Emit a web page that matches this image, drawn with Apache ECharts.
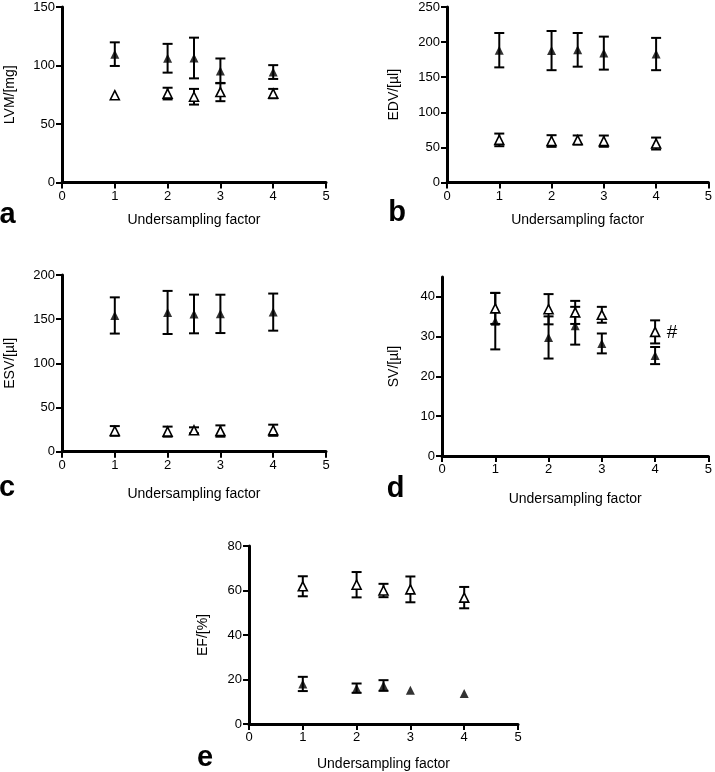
<!DOCTYPE html>
<html><head><meta charset="utf-8">
<script src="https://cdn.jsdelivr.net/npm/echarts@6/dist/echarts.min.js"></script>
<style>html,body{margin:0;padding:0;background:#fff}#c{width:715px;height:772px}</style>
</head><body><div id="c"></div>
<script>
// ---- data ----
const xFactors = [1, 2, 2.5, 3, 4];
const xAxisTitle = 'Undersampling factor';

// a: LVM [mg]
const lvmFilledMean = [109.7, 106.2, 106.4, 95.4, 94.4];
const lvmFilledSD   = [10.1, 12.3, 17.4, 10.6, 5.9];
const lvmOpenMean   = [74.6, 76.0, 73.3, 77.3, 76.0];
const lvmOpenSD     = [0, 5.0, 6.7, 7.8, 4.0];

// b: EDV [µl]
const edvFilledMean = [188.5, 187.9, 189.0, 184.3, 183.0];
const edvFilledSD   = [24.5, 27.9, 24.0, 23.5, 23.0];
const edvOpenMean   = [60.7, 59.1, 60.5, 58.9, 55.5];
const edvOpenSD     = [9.0, 8.3, 6.5, 8.0, 8.5];

// c: ESV [µl]
const esvFilledMean = [154.2, 157.6, 155.9, 156.0, 158.0];
const esvFilledSD   = [20.5, 24.4, 21.9, 21.7, 21.0];
const esvOpenMean   = [23.5, 22.7, 24.2, 23.4, 24.3];
const esvOpenSD     = [5.5, 5.7, 3.4, 6.4, 6.3];

// d: SV [µl]
const svFilledMean = [33.9, 29.8, 32.75, 28.3, 25.25];
const svFilledSD   = [7.1, 5.3, 4.75, 2.5, 2.15];
const svOpenMean   = [37.1, 36.9, 36.1, 35.5, 31.2];
const svOpenSD     = [3.9, 3.8, 2.9, 2.0, 2.9];

// e: EF [%]
const efFilledMean = [18.0, 16.1, 17.3, 15.2, 13.7];
const efFilledSD   = [3.2, 2.1, 2.4, 0, 0];
const efOpenMean   = [61.9, 62.6, 60.0, 60.5, 56.8];
const efOpenSD     = [4.5, 5.7, 3.0, 5.8, 4.8];

const panelLetters = ['a', 'b', 'c', 'd', 'e'];
const yTitles = ['LVM/[mg]', 'EDV/[µl]', 'ESV/[µl]', 'SV/[µl]', 'EF/[%]'];
const sigMark = '#';

// ---- layout ----
const FONT = 'Liberation Sans, Arial, Helvetica, sans-serif';
const panels = [
  {grid:{left:62, top:7, width:264, height:175.5}, ymax:150, yint:50, fm:lvmFilledMean, fs:lvmFilledSD, om:lvmOpenMean, os:lvmOpenSD, yGap:45, xGap:31},
  {grid:{left:447, top:7, width:264, height:175.5}, ymax:250, yint:50, fm:edvFilledMean, fs:edvFilledSD, om:edvOpenMean, os:edvOpenSD, yGap:46, xGap:31},
  {grid:{left:62, top:275, width:264, height:176.7}, ymax:200, yint:50, fm:esvFilledMean, fs:esvFilledSD, om:esvOpenMean, os:esvOpenSD, yGap:45, xGap:35},
  {grid:{left:442, top:277, width:268, height:179}, ymax:45, yint:10, yCustom:[0,10,20,30,40], fm:svFilledMean, fs:svFilledSD, om:svOpenMean, os:svOpenSD, yGap:41, xGap:36},
  {grid:{left:249, top:546, width:269, height:179}, ymax:80, yint:20, fm:efFilledMean, fs:efFilledSD, om:efOpenMean, os:efOpenSD, yGap:39, xGap:33}
];

function errRender(params, api) {
  const x = api.value(0), lo = api.value(1), hi = api.value(2);
  if (!(hi - lo > 0)) return {type:'group', children:[]};
  const pLo = api.coord([x, lo]), pHi = api.coord([x, hi]);
  const hw = 5;
  const style = {stroke:'#000', lineWidth:2, fill:null};
  return {type:'group', children:[
    {type:'line', shape:{x1:pLo[0], y1:pLo[1], x2:pHi[0], y2:pHi[1]}, style:style},
    {type:'line', shape:{x1:pLo[0]-hw, y1:pLo[1], x2:pLo[0]+hw, y2:pLo[1]}, style:style},
    {type:'line', shape:{x1:pHi[0]-hw, y1:pHi[1], x2:pHi[0]+hw, y2:pHi[1]}, style:style}
  ]};
}

const grids = [], xAxes = [], yAxes = [], series = [];
panels.forEach(function(p, i) {
  grids.push(Object.assign({containLabel:false}, p.grid));
  xAxes.push({
    type:'value', gridIndex:i, min:0, max:5, interval:1,
    name:xAxisTitle, nameLocation:'middle', nameGap:p.xGap,
    nameTextStyle:{fontFamily:FONT, fontSize:14, color:'#000'},
    axisLine:{show:true, onZero:false, lineStyle:{color:'#000', width:3}},
    axisTick:{show:true, inside:false, length:6, lineStyle:{color:'#000', width:2}},
    axisLabel:{fontFamily:FONT, fontSize:13, color:'#000', margin:7},
    splitLine:{show:false}
  });
  const ya = {
    type:'value', gridIndex:i, min:0, max:p.ymax, interval:p.yint,
    name:yTitles[i], nameLocation:'middle', nameGap:p.yGap,
    nameTextStyle:{fontFamily:FONT, fontSize:14, color:'#000'},
    axisLine:{show:true, onZero:false, lineStyle:{color:'#000', width:3}},
    axisTick:{show:true, inside:false, length:6, lineStyle:{color:'#000', width:2}},
    axisLabel:{fontFamily:FONT, fontSize:13, color:'#000', margin:7},
    splitLine:{show:false}
  };
  if (p.yCustom) {
    ya.axisTick.customValues = p.yCustom;
    ya.axisLabel.customValues = p.yCustom;
  }
  yAxes.push(ya);

  const errF = xFactors.map(function(x, k){ return [x, p.fm[k]-p.fs[k], p.fm[k]+p.fs[k]]; });
  const errO = xFactors.map(function(x, k){ return [x, p.om[k]-p.os[k], p.om[k]+p.os[k]]; });
  series.push({type:'custom', xAxisIndex:i, yAxisIndex:i, renderItem:errRender, data:errF, encode:{x:0, y:[1,2]}, z:2, silent:true});
  series.push({type:'custom', xAxisIndex:i, yAxisIndex:i, renderItem:errRender, data:errO, encode:{x:0, y:[1,2]}, z:2, silent:true});
  series.push({type:'scatter', xAxisIndex:i, yAxisIndex:i, symbol:'triangle', symbolSize:9,
    itemStyle:{color:'#000'}, data:xFactors.map(function(x,k){return [x, p.fm[k]];}), z:5, silent:true});
  series.push({type:'scatter', xAxisIndex:i, yAxisIndex:i, symbol:'triangle', symbolSize:9,
    itemStyle:{color:'#fff', borderColor:'#000', borderWidth:1.6, opacity:1}, data:xFactors.map(function(x,k){return [x, p.om[k]];}), z:6, silent:true});
});

const letterPos = [[7.5,215],[397,213],[7,488],[395.5,489],[205,758]];
const graphics = letterPos.map(function(pos, i){
  return {type:'text', x:pos[0], y:pos[1],
    style:{text:panelLetters[i], font:'bold 29px ' + FONT, fill:'#000', align:'center', verticalAlign:'middle'}};
});
graphics.push({type:'text', x:672, y:333, style:{text:sigMark, font:'19px ' + FONT, fill:'#000', align:'center', verticalAlign:'middle'}});

const chart = echarts.init(document.getElementById('c'), null, {renderer:'canvas'});
chart.setOption({
  animation:false,
  backgroundColor:'#fff',
  grid:grids, xAxis:xAxes, yAxis:yAxes, series:series, graphic:graphics
});
</script></body></html>
